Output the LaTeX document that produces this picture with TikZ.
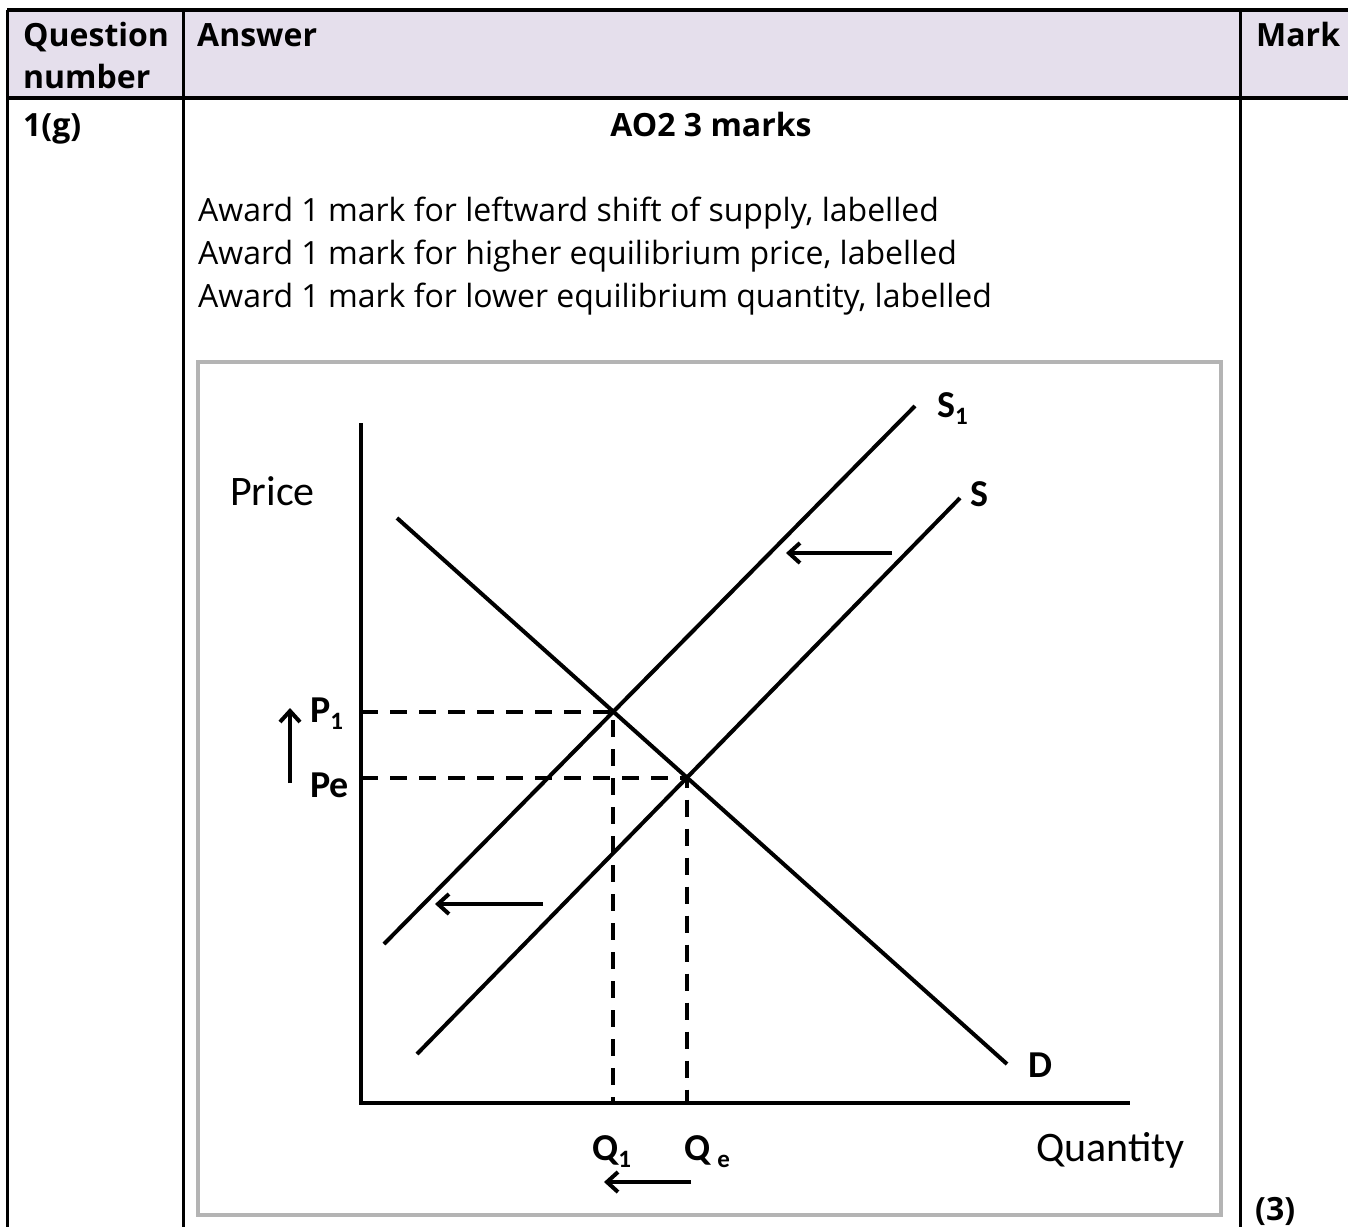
\documentclass[tikz,border=0pt]{standalone}
\usepackage{fontspec}
\setmainfont{Open Sans}
\newfontfamily\graphfont{Carlito}
\usetikzlibrary{arrows.meta,intersections}
\definecolor{hdrfill}{HTML}{E5DFEC}
\definecolor{framegray}{HTML}{B4B4B4}
\newcommand\gsub[1]{\raisebox{-7pt}{\fontsize{25}{25}\selectfont #1}}
\begin{document}
\begin{tikzpicture}[x=1pt,y=-1pt,
  tabtext/.style={anchor=base west, inner sep=0pt, font=\fontsize{32}{36}\selectfont},
  tabbold/.style={anchor=base west, inner sep=0pt, font=\fontsize{32}{36}\selectfont\bfseries},
  rule/.style={line width=3pt},
  curve/.style={line width=4pt},
  guide/.style={line width=4pt, dash pattern=on 17pt off 12pt},
  shiftarrow/.style={line width=4pt, -{Straight Barb[length=11pt,width=20pt,line width=4pt]}},
  glabel/.style={anchor=base west, inner sep=0pt, font=\graphfont\fontsize{38}{40}\selectfont\bfseries},
  gtext/.style={anchor=base west, inner sep=0pt, font=\graphfont\fontsize{42}{46}\selectfont},
]
\useasboundingbox (0,0) rectangle (1348,1227);
\fill[white] (0,0) rectangle (1348,1227);
% table
\fill[hdrfill] (7,10) rectangle (1348,98);
\draw[line width=3.6pt] (7,10) -- (1348,10);
\draw[line width=3.6pt] (7,98) -- (1348,98);
\draw[rule] (7,10) -- (7,1227);
\draw[rule] (183,10) -- (183,1227);
\draw[rule] (1240,10) -- (1240,1227);
\node[tabbold] (hq) at (23,46) {Question};
\node[tabbold] (hn) at (23,88) {number};
\node[tabbold] (ha) at (197,46) {Answer};
\node[tabbold] (hm) at (1256,46) {Mark};
\node[tabbold] (qn) at (23,136) {1(g)};
\node[tabbold, anchor=base] (ao) at (711,136) {AO2 3 marks};
\node[tabtext] (l1) at (198,221) {Award 1 mark for leftward shift of supply, labelled};
\node[tabtext] (l2) at (198,264) {Award 1 mark for higher equilibrium price, labelled};
\node[tabtext] (l3) at (198,307) {Award 1 mark for lower equilibrium quantity, labelled};
\node[tabbold] (mk) at (1255,1220) {(3)};
% picture frame
\draw[framegray, line width=3.5pt] (198,362) rectangle (1221,1215);
% axes
\coordinate (ytop) at (361,423);
\coordinate (origin) at (361,1103);
\coordinate (xend) at (1130,1103);
\draw[line width=4.6pt, line join=miter] (ytop) -- (origin) -- (xend);
% curves
\coordinate (d1) at (397,518);
\coordinate (d2) at (1007,1064);
\coordinate (sa1) at (384,944);
\coordinate (sa2) at (915,406);
\coordinate (sb1) at (417,1054);
\coordinate (sb2) at (960,498);
\draw[curve, name path=dem] (d1) -- (d2);
\draw[curve, name path=sone] (sa1) -- (sa2);
\draw[curve, name path=szero] (sb1) -- (sb2);
\path[name intersections={of=dem and sone, by=E1}];
\path[name intersections={of=dem and szero, by=E0}];
\draw[guide] (origin |- E1) -- (E1) -- (E1 |- origin);
\draw[guide] (origin |- E0) -- (E0) -- (E0 |- origin);
% shift arrows
\coordinate (ua1) at (892,553); \coordinate (ua2) at (786,553);
\coordinate (ma1) at (543,904); \coordinate (ma2) at (435,904);
\coordinate (qa1) at (691,1182); \coordinate (qa2) at (604,1182);
\coordinate (pa1) at (290,783); \coordinate (pa2) at (290,708);
\draw[shiftarrow] (ua1) -- (ua2);
\draw[shiftarrow] (ma1) -- (ma2);
\draw[shiftarrow] (qa1) -- (qa2);
\draw[shiftarrow] (pa1) -- (pa2);
% labels
\node[gtext] (price) at (230,505) {Price};
\node[gtext] (qty) at (1036,1161) {Quantity};
\node[glabel] (lp1) at (310,722) {P\gsub{1}};
\node[glabel] (lpe) at (310,797) {Pe};
\node[glabel] (ls1) at (937,417) {S\gsub{1}};
\node[glabel] (ls) at (970,506) {S};
\node[glabel] (ld) at (1028,1077) {D};
\node[glabel] (lq1) at (592,1160) {Q\gsub{1}};
\node[glabel] (lqe) at (684,1160) {Q\hspace{7pt}\gsub{e}};
\end{tikzpicture}
\end{document}
